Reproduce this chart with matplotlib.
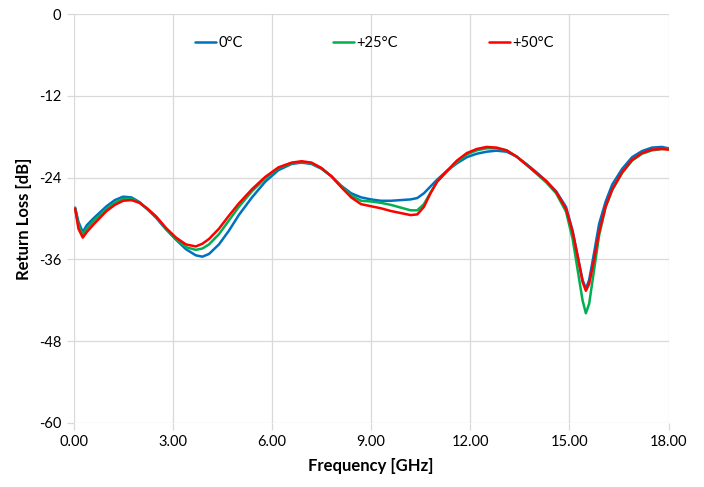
import matplotlib
matplotlib.use("Agg")
import matplotlib.pyplot as plt

freq = [0.05, 0.15, 0.28, 0.4, 0.6, 0.8, 1.0, 1.25, 1.5, 1.75, 2.0, 2.25, 2.5, 2.8, 3.1, 3.4,
        3.7, 3.9, 4.1, 4.4, 4.7, 5.0, 5.4, 5.8, 6.2, 6.6, 6.9, 7.2, 7.5, 7.8, 8.1, 8.4, 8.7,
        9.0, 9.3, 9.6, 9.9, 10.2, 10.4, 10.6, 10.8, 11.0, 11.3, 11.6, 11.9, 12.2, 12.5, 12.8,
        13.1, 13.4, 13.7, 14.0, 14.3, 14.6, 14.9, 15.1, 15.25, 15.4, 15.5, 15.6, 15.75, 15.9,
        16.1, 16.3, 16.6, 16.9, 17.2, 17.5, 17.8, 18.0]

rl_0c = [-28.4, -30.5, -32.0, -31.0, -30.0, -29.1, -28.2, -27.3, -26.8, -26.9, -27.6, -28.7,
         -29.9, -31.6, -33.1, -34.5, -35.4, -35.6, -35.2, -33.8, -31.8, -29.5, -26.9, -24.6,
         -22.9, -22.0, -21.8, -22.0, -22.7, -23.8, -25.2, -26.3, -26.9, -27.2, -27.4, -27.4,
         -27.3, -27.2, -27.0, -26.3, -25.3, -24.3, -23.0, -21.9, -21.0, -20.5, -20.2, -20.05,
         -20.2, -20.9, -22.0, -23.2, -24.5, -26.0, -28.3, -31.8, -35.5, -39.0, -40.3, -39.0,
         -35.0, -30.8, -27.5, -25.0, -22.7, -21.0, -20.1, -19.6, -19.5, -19.7]

rl_25c = [-28.5, -31.0, -32.4, -31.5, -30.4, -29.5, -28.6, -27.7, -27.1, -27.1, -27.7, -28.7,
          -29.8, -31.5, -33.0, -34.2, -34.6, -34.4, -33.8, -32.3, -30.3, -28.3, -26.0, -24.1,
          -22.6, -21.9, -21.7, -21.9, -22.6, -23.8, -25.3, -26.6, -27.4, -27.5, -27.7, -28.0,
          -28.4, -28.8, -28.8, -27.9, -26.2, -24.6, -23.1, -21.7, -20.6, -20.0, -19.7, -19.7,
          -20.0, -20.9, -22.1, -23.4, -24.7, -26.3, -29.0, -33.0, -37.5, -42.0, -43.9, -42.5,
          -37.5, -32.5, -28.3, -25.8, -23.3, -21.5, -20.5, -20.0, -19.8, -19.8]

rl_50c = [-28.6, -31.5, -32.8, -32.0, -30.9, -29.9, -28.9, -28.0, -27.4, -27.3, -27.7, -28.6,
          -29.7, -31.4, -32.8, -33.8, -34.1, -33.7, -33.0, -31.5, -29.6, -27.8, -25.7, -23.9,
          -22.5, -21.8, -21.6, -21.8, -22.6, -23.8, -25.4, -26.9, -27.9, -28.2, -28.5, -28.9,
          -29.2, -29.5, -29.4, -28.3, -26.3, -24.6, -23.0, -21.5, -20.4, -19.8, -19.5, -19.6,
          -20.0, -20.9, -22.1, -23.3, -24.5, -26.1, -28.6, -32.0, -35.5, -39.3, -40.6, -39.6,
          -36.0, -32.0, -28.2, -25.7, -23.2, -21.4, -20.4, -19.9, -19.8, -19.9]

series_labels = ["0°C", "+25°C", "+50°C"]
series_colors = ["#0070C0", "#00B050", "#FF0000"]
x_ticks = [0, 3, 6, 9, 12, 15, 18]
y_ticks = [0, -12, -24, -36, -48, -60]

plt.rcParams['font.family'] = ['Lato', 'DejaVu Sans']

fig = plt.figure(figsize=(7.04, 4.87), dpi=100)
ax = fig.add_axes([73.5 / 704, 1 - 423 / 487, 595 / 704, 409 / 487])

for vals, lab, col in zip([rl_0c, rl_25c, rl_50c], series_labels, series_colors):
    ax.plot(freq, vals, color=col, lw=1.8, label=lab, solid_joinstyle='round',
            solid_capstyle='round')

ax.set_xlim(0, 18)
ax.set_ylim(-60, 0)
ax.set_xticks(x_ticks)
ax.set_xticklabels([f"{t:.2f}" for t in x_ticks])
ax.set_yticks(y_ticks)
ax.set_yticklabels([str(t) for t in y_ticks])
ax.grid(True, color="#D9D9D9", lw=0.9)
ax.set_axisbelow(True)
for s in ax.spines.values():
    s.set_visible(False)
ax.tick_params(axis='both', length=5, width=0.9, color="#D9D9D9", labelsize=10.5,
               labelcolor="#000000", pad=4)

ax.set_xlabel("Frequency [GHz]", fontsize=12, fontweight='bold', labelpad=6)
ax.set_ylabel("Return Loss [dB]", fontsize=12, fontweight='bold', labelpad=5)

leg = ax.legend(loc='center', bbox_to_anchor=(0.5055, 0.929), ncol=3, frameon=False,
                fontsize=10.5, handlelength=1.45, handletextpad=0.15, columnspacing=6.2)

fig.savefig("out.png", dpi=100)
